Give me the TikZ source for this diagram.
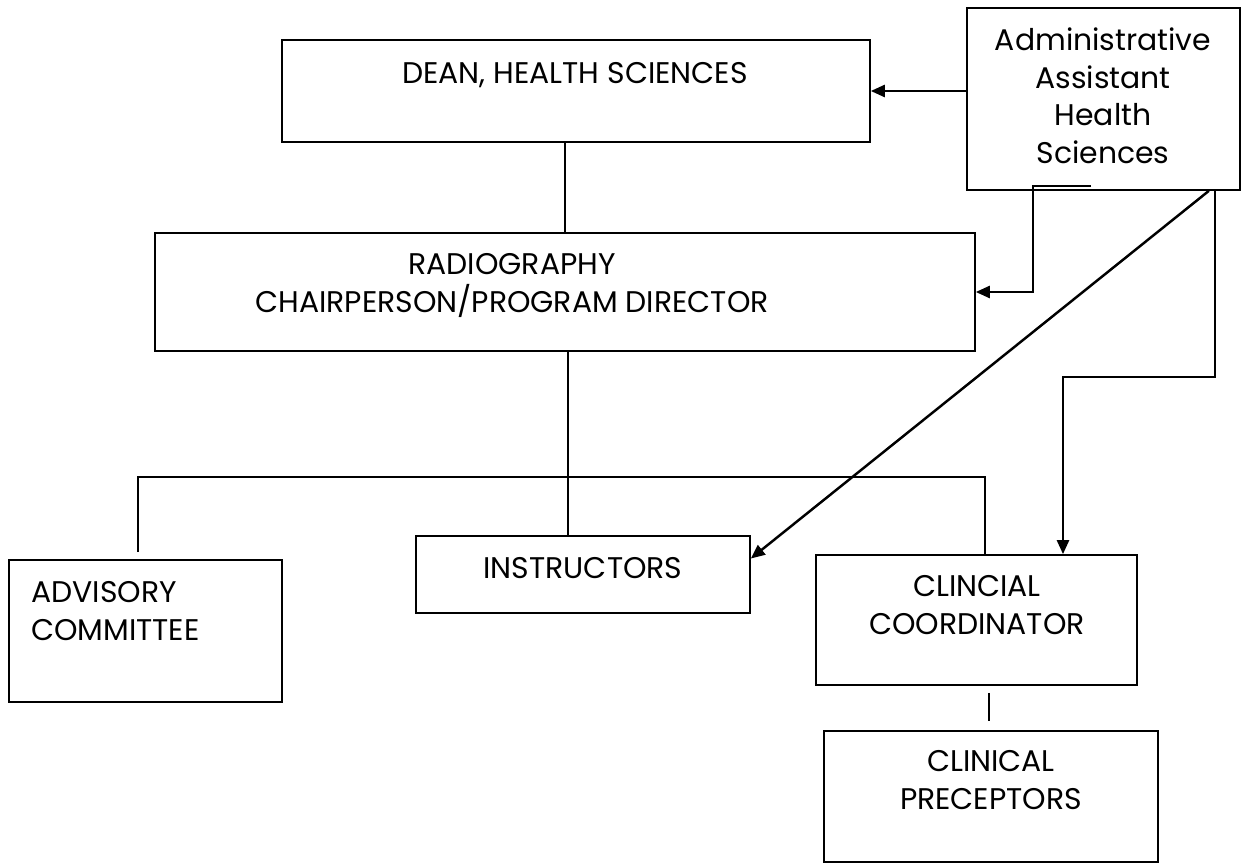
\documentclass[tikz,border=0pt]{standalone}
\usepackage{fontspec}
\setmainfont{Poppins}
\usetikzlibrary{arrows.meta}

\begin{document}
\begin{tikzpicture}
  [x=0.02cm,y=-0.02cm,
   box/.style={draw,line width=1pt,inner sep=0pt},
   txt/.style={inner sep=0pt,align=center,anchor=north,font=\fontsize{17}{21.6}\selectfont},
   arr/.style={line width=1.4pt,-{Triangle[length=0.28cm,width=0.24cm]}}]
  \useasboundingbox (0,0) rectangle (1241,865);

  % boxes
  \node[box,minimum width=11.76cm,minimum height=2.04cm] (dean) at (576,91) {};
  \node[box,minimum width=5.46cm,minimum height=3.64cm] (admin) at (1103.5,99) {};
  \node[box,minimum width=16.4cm,minimum height=2.36cm] (radio) at (565,292) {};
  \node[box,minimum width=6.68cm,minimum height=1.54cm] (instr) at (583,574.5) {};
  \node[box,minimum width=5.46cm,minimum height=2.84cm] (advis) at (145.5,631) {};
  \node[box,minimum width=6.42cm,minimum height=2.6cm] (coord) at (976.5,620) {};
  \node[box,minimum width=6.68cm,minimum height=2.62cm] (precep) at (991,796.5) {};

  % texts
  \node[txt] (deantxt) at (575,62) {DEAN, HEALTH SCIENCES};
  \node[txt] (admintxt) at (1103,27) {Administrative\\Assistant\\Health\\Sciences};
  \node[txt] (radiotxt) at (512,253) {RADIOGRAPHY\\CHAIRPERSON/PROGRAM DIRECTOR};
  \node[txt] (instrtxt) at (583,557) {INSTRUCTORS};
  \node[txt,anchor=north west,align=left] (advistxt) at (31,581) {ADVISORY\\COMMITTEE};
  \node[txt] (coordtxt) at (977,575) {CLINCIAL\\COORDINATOR};
  \node[txt] (preceptxt) at (991,750) {CLINICAL\\PRECEPTORS};

  % plain links
  \draw[line width=1pt] (dean.south -| radio.north) -- (radio.north);
  \draw[line width=1pt] ([xshift=0.06cm]radio.south) -- ([xshift=-0.3cm]instr.north);
  \draw[line width=1pt] ([xshift=-0.15cm,yshift=0.14cm]advis.north) -- ++(0,-75) -| ([xshift=0.17cm]coord.north);
  \draw[line width=1pt] ([xshift=0.25cm,yshift=-0.14cm]coord.south) -- ++(0,28);

  % links from the assistant
  \coordinate (stubA) at (1033,186);
  \coordinate (stubB) at (1091,186);
  \draw[arr] (admin.west |- dean.east) -- (dean.east);
  \draw[arr] (stubB) -- (stubA) |- (radio.east);
  \draw[arr] ([xshift=-0.64cm]admin.south east) -- ([yshift=0.32cm]instr.east);
  \draw[arr] ([xshift=-0.52cm]admin.south east) -- ++(0,186) -| ([xshift=1.73cm]coord.north);

\end{tikzpicture}
\end{document}
